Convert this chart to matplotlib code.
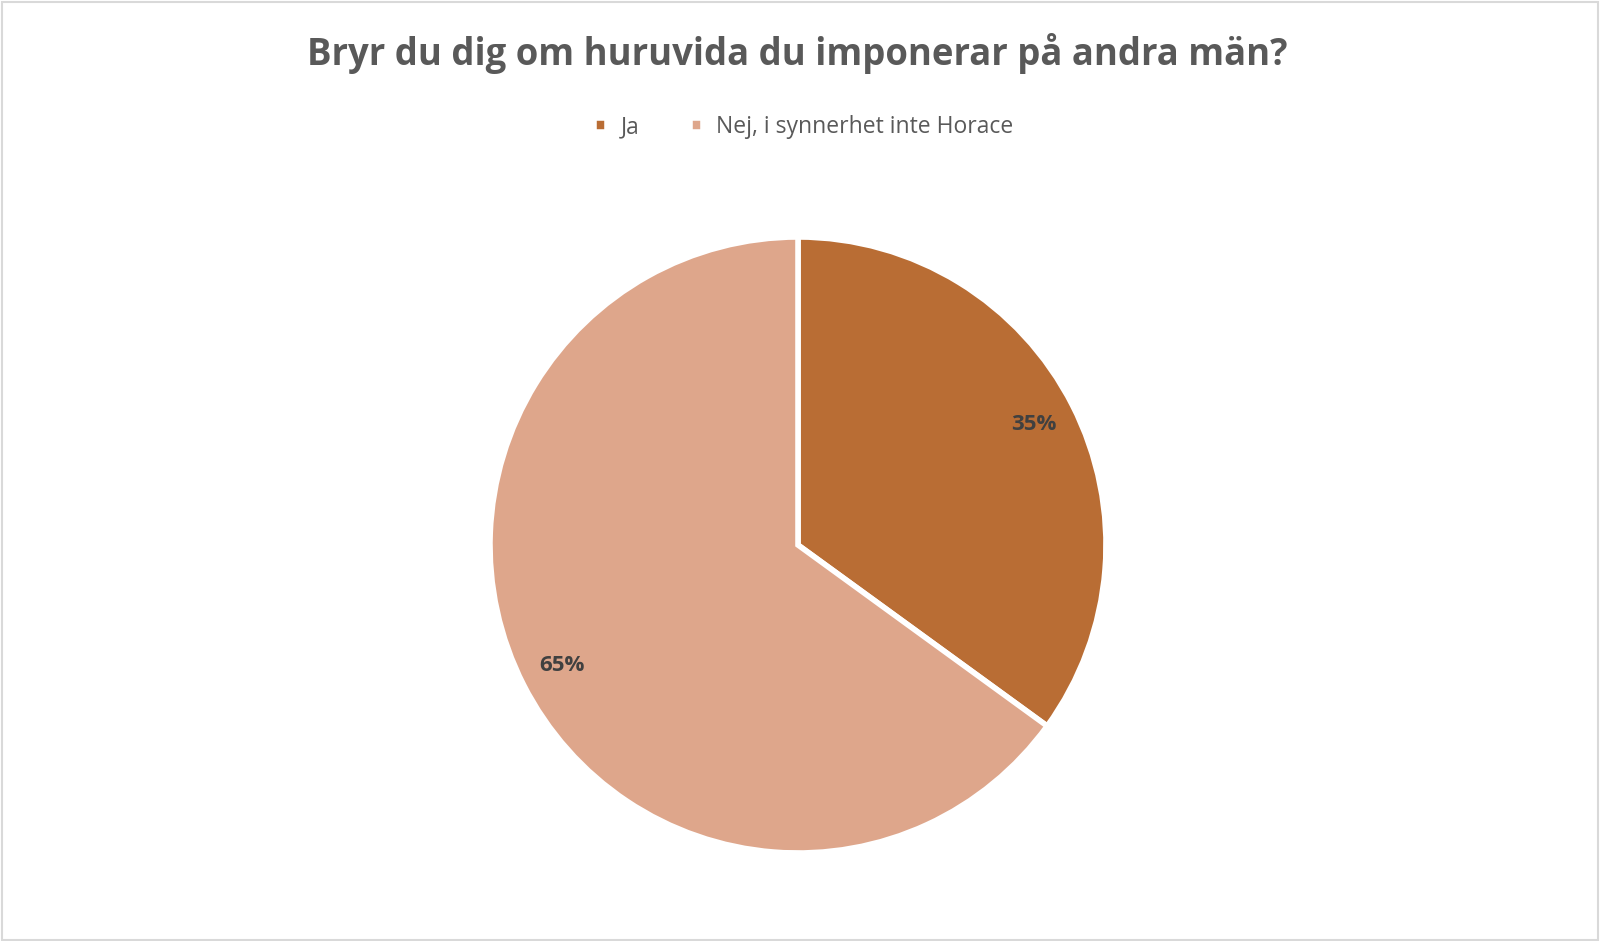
import matplotlib.pyplot as plt
from matplotlib.patches import Rectangle

plt.rcParams['font.family'] = ['Open Sans', 'DejaVu Sans']

# Data
labels = ['Ja', 'Nej, i synnerhet inte Horace']
values = [35, 65]
colors = ['#B96D34', '#DEA68B']
title = 'Bryr du dig om huruvida du imponerar på andra män?'

W, H = 1600, 941
fig = plt.figure(figsize=(W / 100, H / 100), dpi=100)

# pie axes: center (798, 545) px, radius ~308 px
cx, cy, r = 798, 545, 310
ax = fig.add_axes([(cx - r) / W, (H - cy - r) / H, 2 * r / W, 2 * r / H])
wedges, texts, autotexts = ax.pie(
    values, colors=colors, startangle=90, counterclock=False,
    radius=308 / 310, autopct='%1.0f%%', pctdistance=0.86,
    wedgeprops=dict(edgecolor='white', linewidth=4),
    textprops=dict(color='#404040', fontsize=16, fontweight='bold'))
ax.set_xlim(-1, 1)
ax.set_ylim(-1, 1)
ax.set_aspect('equal')
ax.axis('off')

fig.text(797 / W, 1 - 53 / H, title, ha='center', va='center',
         fontsize=26.3, fontweight='bold', color='#595959')

fig.legend(wedges, labels, loc='center', bbox_to_anchor=(804 / W, 1 - 127 / H),
           ncol=2, frameon=False, fontsize=16.5, labelcolor='#595959',
           handlelength=0.55, handleheight=0.55, handletextpad=0.6, columnspacing=2.2)

fig.add_artist(Rectangle((0.001, 0.001), 0.998, 0.997, transform=fig.transFigure,
                         fill=False, edgecolor='#D9D9D9', linewidth=1.5))

fig.savefig('out.png', dpi=100)
